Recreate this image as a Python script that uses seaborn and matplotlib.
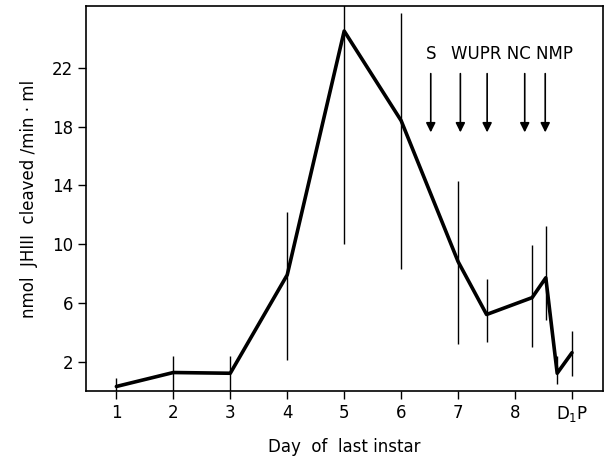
import matplotlib
matplotlib.use("Agg")
import matplotlib.pyplot as plt
import seaborn as sns
import pandas as pd

# data
day = [1, 2, 3, 4, 5, 6, 7, 7.5, 8.3, 8.54, 8.74, 9]
activity = [0.3, 1.25, 1.2, 7.9, 24.5, 18.4, 8.8, 5.2, 6.35, 7.7, 1.2, 2.6]
err_low = [0.0, 0.0, 0.0, 2.1, 10.0, 8.3, 3.2, 3.3, 3.0, 4.8, 0.5, 1.0]
err_high = [0.9, 2.4, 2.4, 12.2, 27.0, 25.7, 14.3, 7.6, 9.9, 11.2, 2.4, 4.1]

tick_pos = [1, 2, 3, 4, 5, 6, 7, 8, 9]
tick_labels = ["1", "2", "3", "4", "5", "6", "7", "8", "D$_\\mathregular{1}$P"]
yticks = [2, 6, 10, 14, 18, 22]

event_pos = [6.52, 7.04, 7.51, 8.17, 8.53]
event_text_left = "S"
event_text_right = "WUPR NC NMP"

sns.set_theme(style="ticks")
plt.rcParams["font.family"] = ["DejaVu Sans"]
plt.rcParams["text.color"] = "black"
plt.rcParams["axes.labelcolor"] = "black"

fig = plt.figure(figsize=(6.07, 4.67), dpi=100)
ax = fig.add_axes([0.142, 0.163, 0.851, 0.824])

df = pd.DataFrame({"day": day, "activity": activity})
ax.vlines(day, err_low, err_high, color="black", linewidth=1.0, zorder=2)
sns.lineplot(data=df, x="day", y="activity", ax=ax, color="black",
             linewidth=2.6, zorder=3, sort=False)

ax.set_xlim(0.47, 9.54)
ax.set_ylim(0.0, 26.2)
ax.set_xticks(tick_pos)
ax.set_xticklabels(tick_labels)
ax.set_yticks(yticks)
ax.tick_params(axis="both", direction="out", length=6, width=1.0,
               labelsize=12, color="black", labelcolor="black")
for s in ax.spines.values():
    s.set_visible(True)
    s.set_linewidth(1.2)
    s.set_color("black")

ax.set_xlabel("Day  of  last instar", fontsize=12, labelpad=10, color="black")
ax.set_ylabel("nmol  JHIII  cleaved /min · ml", fontsize=12, labelpad=10, color="black")

# developmental event arrows
for xp in event_pos:
    ax.annotate("", xy=(xp, 17.6), xytext=(xp, 21.6),
                arrowprops=dict(arrowstyle="-|>", color="black", lw=1.2,
                                mutation_scale=14, shrinkA=0, shrinkB=0))
ax.text(6.52, 22.3, event_text_left, ha="center", va="bottom", fontsize=12, color="black")
ax.text(6.88, 22.3, event_text_right, ha="left", va="bottom", fontsize=12, color="black")

fig.savefig("out.png", dpi=100)
